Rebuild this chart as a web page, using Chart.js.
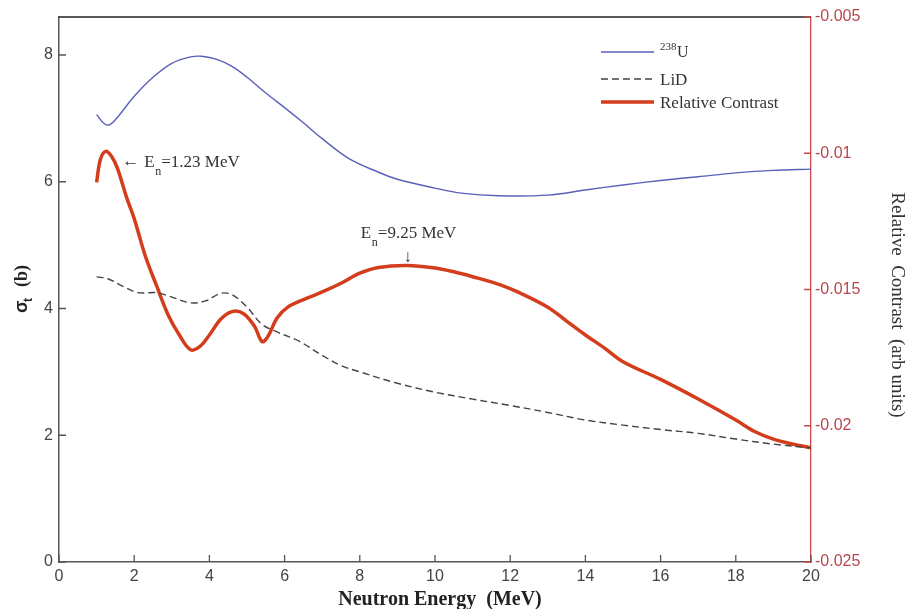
<!DOCTYPE html>
<html>
<head>
<meta charset="utf-8">
<script src="https://cdn.jsdelivr.net/npm/chart.js@4.4.0/dist/chart.umd.min.js"></script>
<style>
  html, body { margin: 0; padding: 0; background: #fff; }
  #wrap { width: 914px; height: 609px; }
</style>
</head>
<body>
<div id="wrap"><canvas id="contrastChart" width="914" height="609"></canvas></div>
<script>
// values (energy in MeV)
const uEnergy = [1.0, 1.2, 1.35, 1.6, 2.0, 2.5, 3.0, 3.5, 3.8, 4.2, 4.6, 5.0, 5.5, 6.0, 6.5, 7.0, 7.7, 8.5, 9.0, 10.0, 10.7, 11.7, 13.0, 14.0, 15.0, 16.0, 17.0, 18.0, 19.0, 20.0];
const uSigma  = [7.06, 6.92, 6.90, 7.05, 7.35, 7.65, 7.87, 7.97, 7.98, 7.93, 7.82, 7.65, 7.40, 7.17, 6.93, 6.68, 6.37, 6.15, 6.04, 5.90, 5.82, 5.78, 5.79, 5.87, 5.95, 6.02, 6.08, 6.14, 6.18, 6.20];

const lidEnergy = [1.0, 1.3, 1.7, 2.1, 2.6, 3.0, 3.5, 3.9, 4.3, 4.6, 5.0, 5.4, 5.8, 6.4, 7.0, 7.5, 8.0, 9.0, 10.0, 11.0, 12.0, 13.0, 14.0, 15.0, 16.0, 17.0, 18.0, 19.0, 20.0];
const lidSigma  = [4.50, 4.47, 4.35, 4.25, 4.25, 4.18, 4.09, 4.12, 4.24, 4.22, 4.02, 3.75, 3.63, 3.48, 3.26, 3.10, 3.00, 2.82, 2.68, 2.57, 2.47, 2.36, 2.24, 2.16, 2.09, 2.03, 1.94, 1.86, 1.80];

const rcEnergy = [1.0, 1.1, 1.24, 1.4, 1.55, 1.8, 2.0, 2.3, 2.6, 2.9, 3.2, 3.5, 3.75, 4.0, 4.3, 4.6, 4.9, 5.2, 5.4, 5.55, 5.8, 6.1, 6.5, 7.0, 7.5, 8.0, 8.5, 9.25, 10.0, 10.5, 11.0, 11.7, 12.2, 13.0, 13.5, 14.0, 14.5, 15.0, 16.0, 17.0, 18.0, 18.5, 19.0, 19.5, 20.0];
const rcValue  = [-0.01107, -0.01023, -0.00993, -0.01012, -0.01054, -0.01163, -0.01240, -0.01379, -0.01488, -0.01593, -0.01667, -0.01721, -0.01709, -0.01667, -0.01609, -0.01581, -0.01588, -0.01635, -0.01691, -0.01674, -0.01605, -0.01563, -0.01537, -0.01509, -0.01477, -0.01440, -0.01419, -0.01412, -0.01421, -0.01435, -0.01453, -0.01481, -0.01509, -0.01565, -0.01616, -0.01667, -0.01714, -0.01765, -0.01830, -0.01902, -0.01979, -0.02021, -0.02049, -0.02067, -0.02081];

const seriesNames = ['238U', 'LiD', 'Relative Contrast'];
const peakLabels = ['=1.23 MeV', '=9.25 MeV'];
const peakEnergies = [1.23, 9.25];

const sansFont = "'Liberation Sans', Arial, sans-serif";
const serifFont = "'Liberation Serif', 'Times New Roman', serif";

function toPoints(xs, ys) {
  return xs.map((x, i) => ({ x: x, y: ys[i] }));
}

// ticks pointing into the plot, top frame line, titles, legend and notes
const decorations = {
  id: 'decorations',
  afterDraw(chart) {
    const ctx = chart.ctx;
    const area = chart.chartArea;
    const xs = chart.scales.x, ys = chart.scales.y, rs = chart.scales.y1;
    ctx.save();

    // top frame
    ctx.strokeStyle = '#222';
    ctx.lineWidth = 1.5;
    ctx.beginPath();
    ctx.moveTo(area.left, area.top);
    ctx.lineTo(area.right, area.top);
    ctx.stroke();

    // inward ticks
    ctx.lineWidth = 1.3;
    ctx.strokeStyle = '#555';
    ctx.beginPath();
    xs.ticks.forEach(t => {
      const px = xs.getPixelForValue(t.value);
      ctx.moveTo(px, area.bottom);
      ctx.lineTo(px, area.bottom - 7);
    });
    ys.ticks.forEach(t => {
      const py = ys.getPixelForValue(t.value);
      ctx.moveTo(area.left, py);
      ctx.lineTo(area.left + 7, py);
    });
    ctx.stroke();
    ctx.strokeStyle = '#c8474d';
    ctx.beginPath();
    rs.ticks.forEach(t => {
      const py = rs.getPixelForValue(t.value);
      ctx.moveTo(area.right, py);
      ctx.lineTo(area.right - 7, py);
    });
    ctx.stroke();

    // axis titles
    ctx.fillStyle = '#222';
    ctx.textBaseline = 'alphabetic';
    ctx.textAlign = 'center';
    ctx.font = 'bold 20px ' + serifFont;
    ctx.fillText('Neutron Energy  (MeV)', (area.left + area.right) / 2 + 5, 605);

    ctx.save();
    ctx.translate(27, 290);
    ctx.rotate(-Math.PI / 2);
    ctx.textAlign = 'left';
    ctx.font = 'bold 18px ' + sansFont;
    ctx.fillText('σ', -23, 0);
    ctx.font = 'bold 12px ' + sansFont;
    ctx.fillText('t', -12, 5);
    ctx.font = 'bold 18px ' + serifFont;
    ctx.fillText('(b)', 3, 0);
    ctx.restore();

    ctx.save();
    ctx.translate(892, 305);
    ctx.rotate(Math.PI / 2);
    ctx.font = '19px ' + serifFont;
    ctx.fillStyle = '#333';
    ctx.fillText('Relative  Contrast  (arb units)', 0, 0);
    ctx.restore();

    // legend
    const ds = chart.data.datasets;
    const rows = [52, 79, 102];
    ctx.textAlign = 'left';
    ds.forEach((d, i) => {
      ctx.save();
      ctx.strokeStyle = d.borderColor;
      ctx.lineWidth = d.borderWidth;
      ctx.setLineDash(d.borderDash || []);
      ctx.beginPath();
      ctx.moveTo(601, rows[i]);
      ctx.lineTo(654, rows[i]);
      ctx.stroke();
      ctx.restore();
    });
    ctx.fillStyle = '#333';
    ctx.font = '11px ' + serifFont;
    ctx.fillText(seriesNames[0].slice(0, 3), 660, 50);
    ctx.font = '16px ' + serifFont;
    ctx.fillText(seriesNames[0].slice(3), 677, 57);
    ctx.font = '17px ' + serifFont;
    ctx.fillText(seriesNames[1], 660, 85);
    ctx.fillText(seriesNames[2], 660, 108);

    // peak notes
    const drawEn = (x, base, rest) => {
      ctx.font = '17px ' + serifFont;
      ctx.fillText('E', x, base);
      ctx.font = '12px ' + serifFont;
      ctx.fillText('n', x + 11, base + 8);
      ctx.font = '17px ' + serifFont;
      ctx.fillText(rest, x + 17, base);
    };
    ctx.fillStyle = '#333';
    const p1 = xs.getPixelForValue(peakEnergies[0]);
    ctx.font = '17px ' + serifFont;
    ctx.fillText('←', p1 + 17, 166);
    drawEn(p1 + 39, 167, peakLabels[0]);

    const p2 = xs.getPixelForValue(peakEnergies[1]);
    drawEn(p2 - 46, 238, peakLabels[1]);
    ctx.textAlign = 'center';
    ctx.font = '17px ' + serifFont;
    ctx.fillText('↓', p2 + 1, 262);

    ctx.restore();
  }
};

const ctx = document.getElementById('contrastChart').getContext('2d');
const chart = new Chart(ctx, {
  type: 'line',
  data: {
    datasets: [{
      label: seriesNames[0],
      data: toPoints(uEnergy, uSigma),
      borderColor: '#5a60b8',
      borderWidth: 1.4,
      pointRadius: 0,
      tension: 0.35,
      yAxisID: 'y'
    }, {
      label: seriesNames[1],
      data: toPoints(lidEnergy, lidSigma),
      borderColor: '#444',
      borderWidth: 1.4,
      borderDash: [7, 4],
      pointRadius: 0,
      tension: 0.35,
      yAxisID: 'y'
    }, {
      label: seriesNames[2],
      data: toPoints(rcEnergy, rcValue),
      borderColor: '#d43d1c',
      borderWidth: 3.5,
      pointRadius: 0,
      tension: 0.35,
      yAxisID: 'y1'
    }]
  },
  options: {
    responsive: false,
    animation: false,
    layout: { padding: { top: 17, left: 0, right: 0, bottom: 0 } },
    plugins: {
      legend: { display: false },
      tooltip: { enabled: false }
    },
    scales: {
      x: {
        type: 'linear',
        min: 0,
        max: 20,
        ticks: { stepSize: 2, padding: 5, color: '#444', font: { family: sansFont, size: 16 } },
        grid: { drawOnChartArea: false, drawTicks: false },
        border: { color: '#555', width: 1.5 },
        afterFit: s => { s.height = 47; }
      },
      y: {
        position: 'left',
        min: 0,
        max: 8.6,
        ticks: { stepSize: 2, includeBounds: false, padding: 6, color: '#444', font: { family: sansFont, size: 16 } },
        grid: { drawOnChartArea: false, drawTicks: false },
        border: { color: '#555', width: 1.5 },
        afterFit: s => { s.width = 59; }
      },
      y1: {
        position: 'right',
        min: -0.025,
        max: -0.005,
        ticks: {
          stepSize: 0.005,
          padding: 4,
          color: '#b8474d',
          font: { family: sansFont, size: 16 },
          callback: v => String(+v.toFixed(3))
        },
        grid: { drawOnChartArea: false, drawTicks: false },
        border: { color: '#d0474d', width: 1.3 },
        afterFit: s => { s.width = 103; }
      }
    }
  },
  plugins: [decorations]
});
</script>
</body>
</html>
